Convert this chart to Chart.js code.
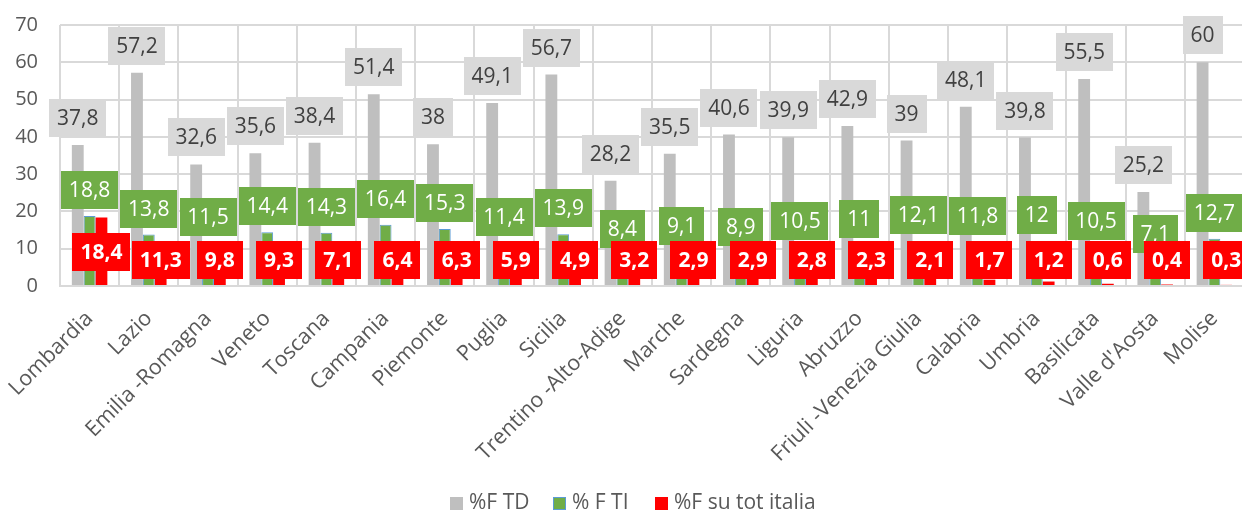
<!DOCTYPE html>
<html>
<head>
<meta charset="utf-8">
<script src="https://cdn.jsdelivr.net/npm/chart.js@4/dist/chart.umd.min.js"></script>
<style>
  html, body { margin: 0; padding: 0; background: #ffffff; overflow: hidden; width: 1242px; height: 512px; }
  canvas { display: block; }
</style>
</head>
<body>
<canvas id="c" width="1244" height="512"></canvas>
<script>
const categories = ["Lombardia", "Lazio", "Emilia -Romagna", "Veneto", "Toscana", "Campania", "Piemonte", "Puglia", "Sicilia", "Trentino -Alto-Adige", "Marche", "Sardegna", "Liguria", "Abruzzo", "Friuli -Venezia Giulia", "Calabria", "Umbria", "Basilicata", "Valle d'Aosta", "Molise"];
const seriesNames = ["%F TD", "% F TI", "%F su tot italia"];
const tdValues = [37.8, 57.2, 32.6, 35.6, 38.4, 51.4, 38, 49.1, 56.7, 28.2, 35.5, 40.6, 39.9, 42.9, 39, 48.1, 39.8, 55.5, 25.2, 60];
const tiValues = [18.8, 13.8, 11.5, 14.4, 14.3, 16.4, 15.3, 11.4, 13.9, 8.4, 9.1, 8.9, 10.5, 11, 12.1, 11.8, 12, 10.5, 7.1, 12.7];
const totValues = [18.4, 11.3, 9.8, 9.3, 7.1, 6.4, 6.3, 5.9, 4.9, 3.2, 2.9, 2.9, 2.8, 2.3, 2.1, 1.7, 1.2, 0.6, 0.4, 0.3];
const yMin = 0, yMax = 70, yStep = 10;

const FONT = '"Open Sans", "DejaVu Sans", sans-serif';
const TEXT_GREY = '#595959';

const labelStyles = [
  { bg: '#d9d9d9', fg: '#404040', weight: 'normal', mode: 'above', gap: 8 },
  { bg: '#70ad47', fg: '#ffffff', weight: 'normal', mode: 'above', gap: 7 },
  { bg: '#ff0000', fg: '#ffffff', weight: 'bold', mode: 'center' }
];

const fmt = v => String(v).replace('.', ',');

const dataLabelPlugin = {
  id: 'boxLabels',
  afterDatasetsDraw(chart) {
    const ctx = chart.ctx;
    const base = chart.scales.y.getPixelForValue(0);
    ctx.save();
    chart.data.datasets.forEach((ds, d) => {
      const st = labelStyles[d];
      const meta = chart.getDatasetMeta(d);
      ctx.font = st.weight + ' 21px ' + FONT;
      meta.data.forEach((bar, i) => {
        const text = fmt(ds.data[i]);
        const tw = ctx.measureText(text).width;
        const w = Math.round(tw + 16), h = 38;
        let cy;
        if (st.mode === 'above') cy = bar.y - st.gap - h / 2;
        else cy = Math.min((bar.y + base) / 2, base - 26);
        ctx.fillStyle = st.bg;
        ctx.fillRect(Math.round(bar.x - w / 2), Math.round(cy - h / 2), w, h);
        ctx.fillStyle = st.fg;
        ctx.textAlign = 'center';
        ctx.textBaseline = 'middle';
        ctx.fillText(text, bar.x, cy + 1);
      });
    });
    ctx.restore();
  }
};

const legendPlugin = {
  id: 'customLegend',
  afterDraw(chart) {
    const ctx = chart.ctx;
    ctx.save();
    ctx.font = '21px ' + FONT;
    ctx.textBaseline = 'middle';
    ctx.textAlign = 'left';
    const items = [
      { x: 450, fill: '#bfbfbf', border: null },
      { x: 553, fill: '#70ad47', border: '#5b9bd5' },
      { x: 655, fill: '#ff0000', border: null }
    ];
    const y = 503;
    items.forEach((it, k) => {
      ctx.fillStyle = it.fill;
      ctx.fillRect(it.x, y - 6, 13, 13);
      if (it.border) { ctx.strokeStyle = it.border; ctx.lineWidth = 1; ctx.strokeRect(it.x + 0.5, y - 5.5, 12, 12); }
      ctx.fillStyle = TEXT_GREY;
      ctx.fillText(seriesNames[k], it.x + 19, y);
    });
    ctx.restore();
  }
};

new Chart(document.getElementById('c'), {
  type: 'bar',
  data: {
    labels: categories,
    datasets: [
      { label: seriesNames[0], data: tdValues, backgroundColor: '#bfbfbf', borderWidth: 0 },
      { label: seriesNames[1], data: tiValues, backgroundColor: '#70ad47', borderColor: '#5b9bd5', borderWidth: 1 },
      { label: seriesNames[2], data: totValues, backgroundColor: '#ff0000', borderWidth: 0 }
    ]
  },
  options: {
    responsive: false,
    animation: false,
    devicePixelRatio: 1,
    layout: { padding: { top: 25, left: 0, right: 0, bottom: 0 } },
    datasets: { bar: { categoryPercentage: 0.6, barPercentage: 1.0 } },
    plugins: { legend: { display: false }, tooltip: { enabled: false } },
    scales: {
      x: {
        grid: { color: '#d9d9d9', lineWidth: 2, drawTicks: false, offset: true },
        border: { color: '#d9d9d9', width: 2 },
        ticks: { color: TEXT_GREY, font: { family: FONT, size: 21.5 }, minRotation: 45, maxRotation: 45, autoSkip: false, padding: 20 },
        afterFit(scale) { scale.height = 226; scale.paddingLeft = 0; scale.paddingRight = 0; }
      },
      y: {
        min: yMin, max: yMax,
        grid: { color: '#d9d9d9', lineWidth: 2, drawTicks: false },
        border: { display: false },
        ticks: { stepSize: yStep, color: TEXT_GREY, font: { family: FONT, size: 20 }, padding: 22 },
        afterFit(scale) { scale.width = 60; scale.paddingTop = 0; scale.paddingBottom = 0; }
      }
    }
  },
  plugins: [dataLabelPlugin, legendPlugin]
});
</script>
</body>
</html>
